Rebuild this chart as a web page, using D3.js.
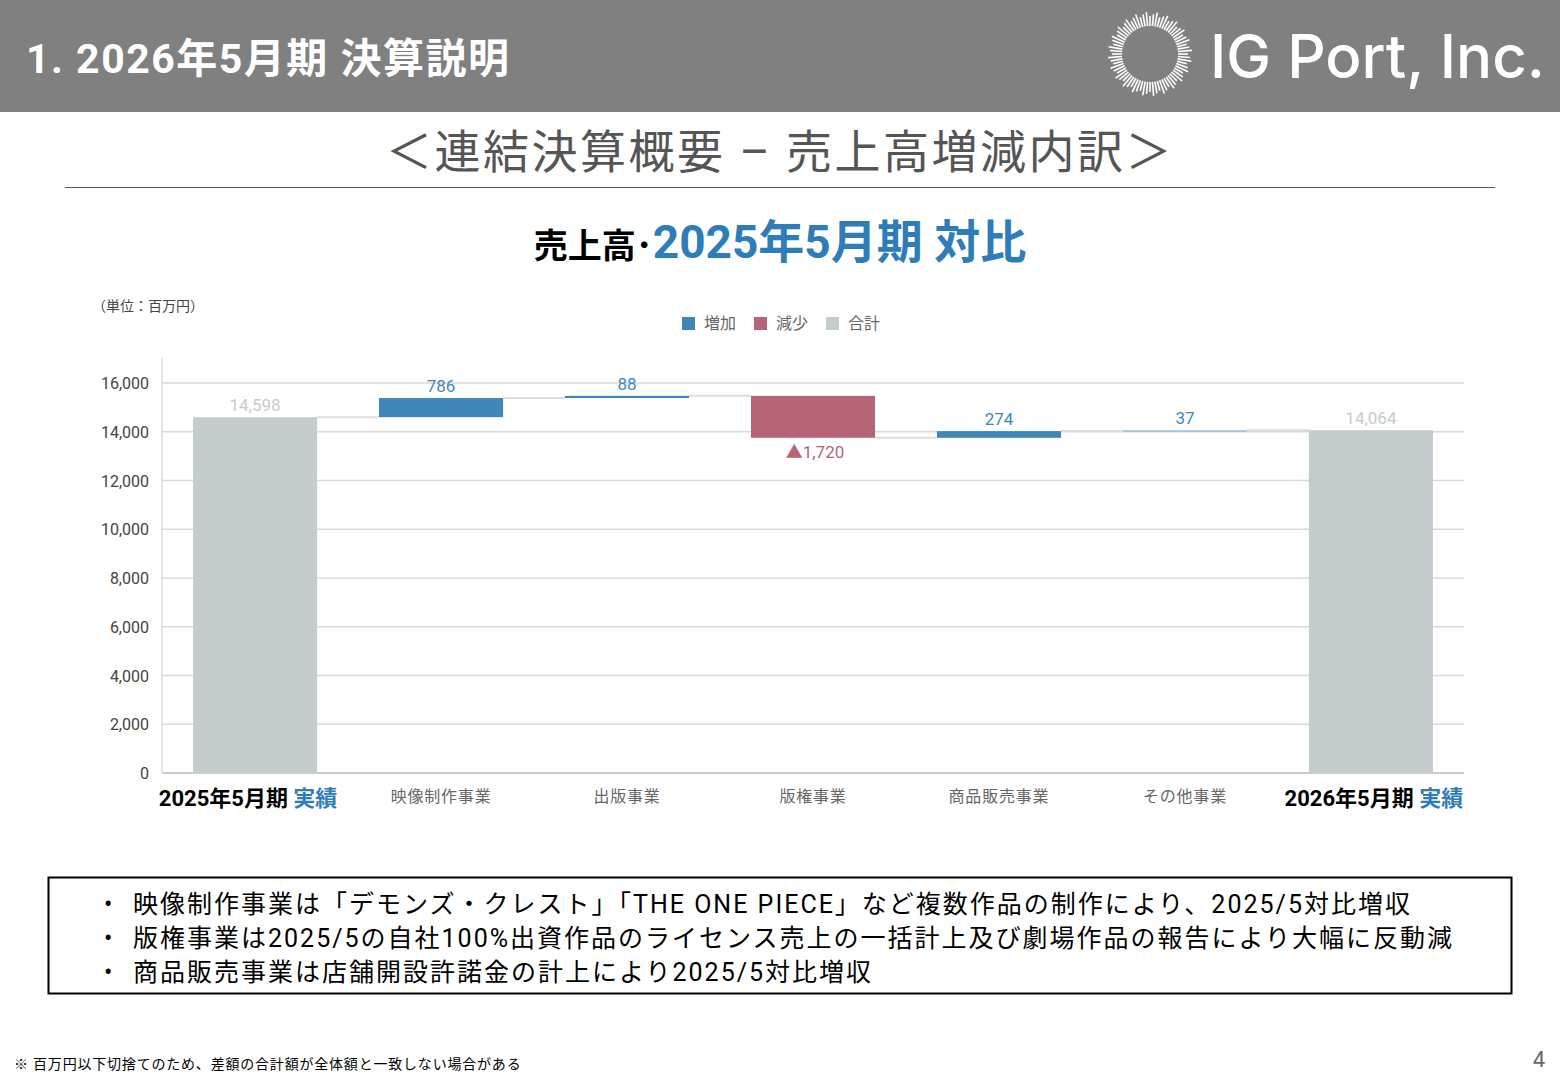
<!DOCTYPE html><html><head><meta charset="utf-8"><script src="https://cdn.jsdelivr.net/npm/d3@7"></script>
<style>body{margin:0;background:#fff;font-family:Roboto,"Noto Sans CJK JP","Noto Sans",sans-serif}</style></head><body><svg id="c" width="1560" height="1080"></svg>
<script>
const categories=["2025年5月期|実績","映像制作事業","出版事業","版権事業","商品販売事業","その他事業","2026年5月期|実績"];
const deltas=[14598,786,88,-1720,274,37,14064];
const kinds=["total","up","up","down","up","up","total"];
const yTicks=[0,2000,4000,6000,8000,10000,12000,14000,16000];
const bullets=["映像制作事業は「デモンズ・クレスト」「THE ONE PIECE」など複数作品の制作により、2025/5対比増収","版権事業は2025/5の自社100%出資作品のライセンス売上の一括計上及び劇場作品の報告により大幅に反動減","商品販売事業は店舗開設許諾金の計上により2025/5対比増収"];
const svg=d3.select("#c");
svg.append("rect").attr("width",1560).attr("height",112).attr("fill","#808080");
svg.append("text").attr("x",26).attr("y",73).attr("fill","#fff").attr("font-size",41).attr("font-weight",700).attr("letter-spacing",1.5).text("1. 2026年5月期 決算説明");
const lg=svg.append("g").attr("transform","translate(1150,54)");
for(let i=0;i<72;i++){const a=i/72*2*Math.PI;const r2=38+(i%3)*2;lg.append("line").attr("x1",Math.cos(a)*28).attr("y1",Math.sin(a)*28).attr("x2",Math.cos(a)*r2).attr("y2",Math.sin(a)*r2).attr("stroke","#fff").attr("stroke-width",1.6);}
svg.append("text").attr("x",1210).attr("y",78).attr("fill","#fff").attr("font-size",60).attr("font-family","Inter,sans-serif").attr("font-weight",500).text("IG Port, Inc.");
svg.append("text").attr("x",780).attr("y",168).attr("text-anchor","middle").attr("font-size",46).attr("letter-spacing",2.5).attr("fill","#555").text("＜連結決算概要 – 売上高増減内訳＞");
svg.append("line").attr("x1",65).attr("x2",1495).attr("y1",187.5).attr("y2",187.5).attr("stroke","#555");
const t=svg.append("text").attr("x",780).attr("y",258).attr("text-anchor","middle").attr("font-weight",700);
t.append("tspan").attr("font-size",34).attr("fill","#000").text("売上高･");
t.append("tspan").attr("font-size",46).attr("fill","#2e7cb8").text("2025年5月期 対比");
svg.append("text").attr("x",92).attr("y",311).attr("font-size",14).attr("fill","#444").text("（単位：百万円）");
const leg=[["増加","#3f87bb"],["減少","#b56576"],["合計","#c5cccd"]];
let lx=682;leg.forEach(([n,c])=>{svg.append("rect").attr("x",lx).attr("y",317).attr("width",13).attr("height",13).attr("fill",c);svg.append("text").attr("x",lx+22).attr("y",329).attr("font-size",16).attr("fill","#666").text(n);lx+=72;});
const x=d3.scaleBand().domain(categories).range([162,1464]).paddingInner(0.333).paddingOuter(0.167);
const y=d3.scaleLinear().domain([0,16000]).range([773,383]);
const g=svg.append("g");
yTicks.forEach(v=>{g.append("line").attr("x1",162).attr("x2",1464).attr("y1",y(v)).attr("y2",y(v)).attr("stroke",v?"#d9d9d9":"#bbb").attr("stroke-width",1.5);
g.append("text").attr("x",149).attr("y",y(v)+6).attr("text-anchor","end").attr("font-size",16).attr("fill","#444").text(d3.format(",")(v));});
g.append("line").attr("x1",162).attr("x2",162).attr("y1",358).attr("y2",773).attr("stroke","#ccc");
let run=0;const bars=[];
deltas.forEach((d,i)=>{let lo,hi;if(kinds[i]=="total"){lo=0;hi=d;run=d;}else{const s=run;run+=d;lo=Math.min(s,run);hi=Math.max(s,run);}bars.push({lo,hi,end:run,d,i});});
bars.forEach((b,i)=>{const c=categories[i];const col=kinds[i]=="total"?"#c5cccd":kinds[i]=="up"?"#3f87bb":"#b56576";
g.append("rect").attr("x",x(c)).attr("width",x.bandwidth()).attr("y",y(b.hi)).attr("height",Math.max(1.5,y(b.lo)-y(b.hi))).attr("fill",i==5?"#9dbdd8":col);
if(i<bars.length-1){g.append("line").attr("x1",x(c)+x.bandwidth()).attr("x2",x(categories[i+1])).attr("y1",y(b.end)).attr("y2",y(b.end)).attr("stroke","#ddd").attr("stroke-width",2);}
const cx=x(c)+x.bandwidth()/2;
if(kinds[i]=="down"){g.append("text").attr("x",cx+2).attr("y",y(b.lo)+20).attr("text-anchor","middle").attr("font-size",17).attr("fill","#b56576").text("▲"+d3.format(",")(-b.d));}
else g.append("text").attr("x",cx).attr("y",y(b.hi)-6).attr("text-anchor","middle").attr("font-size",17).attr("fill",kinds[i]=="total"?"#c5cccd":"#3f87bb").text(d3.format(",")(b.d));
const parts=c.split("|");
if(parts.length>1){const tx=g.append("text").attr("x",cx+(i==0?-7:3)).attr("y",806).attr("text-anchor","middle").attr("font-size",22).attr("font-weight",700);tx.append("tspan").attr("fill","#000").text(parts[0]+" ");tx.append("tspan").attr("fill","#2e7cb8").text(parts[1]);}
else g.append("text").attr("x",cx).attr("y",802).attr("text-anchor","middle").attr("font-size",16).attr("letter-spacing",0.8).attr("fill","#666").text(c);
});
svg.append("rect").attr("x",48.5).attr("y",877.5).attr("width",1463).attr("height",116).attr("fill","none").attr("stroke","#000").attr("stroke-width",2);
bullets.forEach((s,i)=>{svg.append("text").attr("x",104).attr("y",913+i*34).attr("font-size",25).attr("fill","#000").text("•");
svg.append("text").attr("x",133).attr("y",913+i*34).attr("font-size",25).attr("letter-spacing",2).attr("fill","#000").text(s);});
svg.append("text").attr("x",14).attr("y",1069).attr("font-size",14).attr("letter-spacing",0.8).attr("fill","#000").text("※  百万円以下切捨てのため、差額の合計額が全体額と一致しない場合がある");
svg.append("text").attr("x",1545).attr("y",1067).attr("text-anchor","end").attr("font-size",22).attr("fill","#666").text("4");
</script></body></html>
